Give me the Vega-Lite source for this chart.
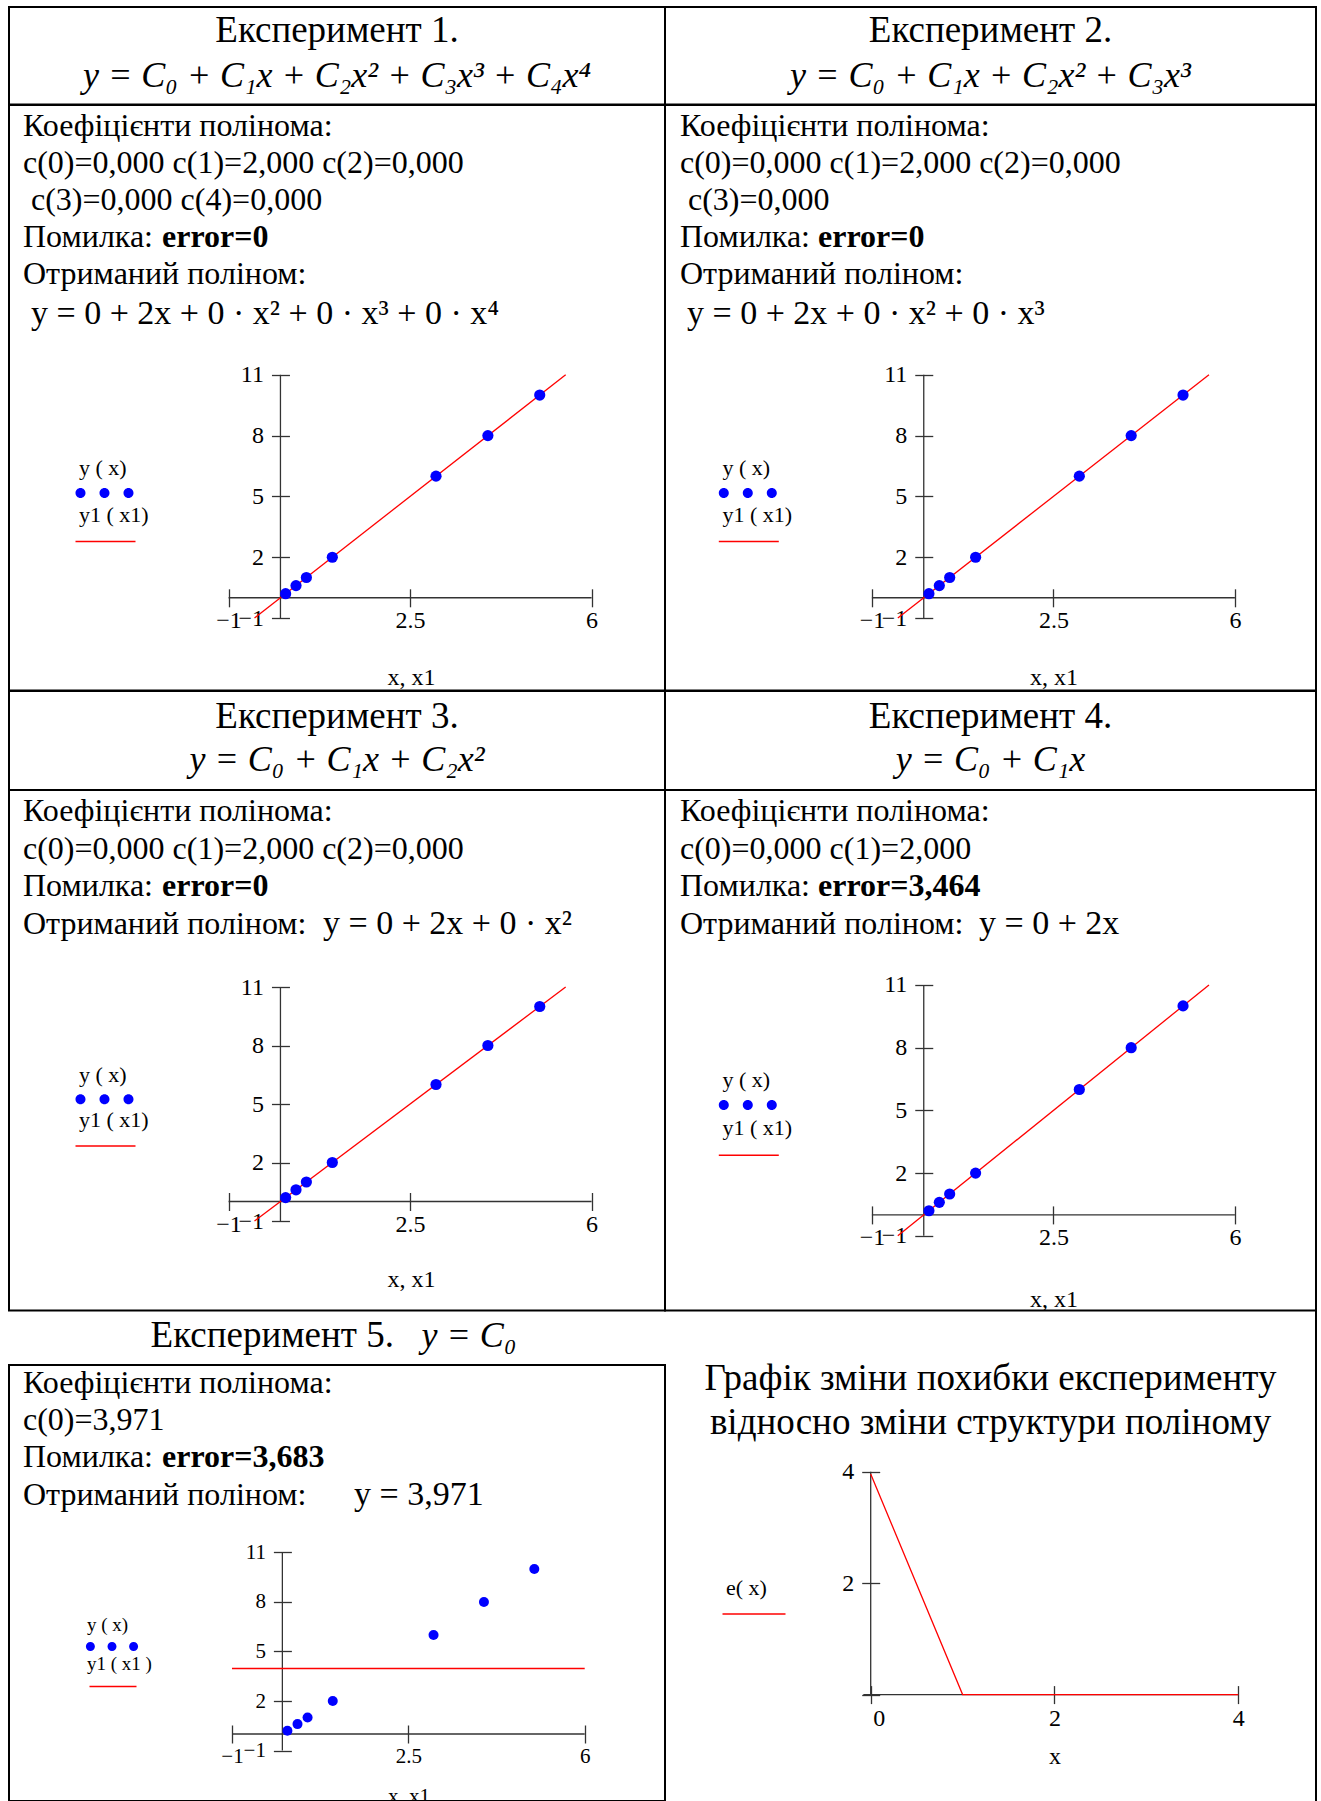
{
"$schema": "https://vega.github.io/schema/vega-lite/v6.json",
"padding": {"left": 8, "top": 6, "right": 0, "bottom": 0},
"background": "white",
"config": {
  "view": {"stroke": "black", "strokeWidth": 2},
  "font": "Liberation Serif",
  "axis": {"labelFont": "Liberation Serif", "titleFont": "Liberation Serif", "labelColor": "black", "titleColor": "black", "titleFontWeight": "normal", "grid": false, "domain": false, "tickColor": "#333", "tickWidth": 1.3, "tickSize": 18, "labelFlush": false, "labelOverlap": false},
  "legend": {"orient": "none", "padding": 0, "labelFontSize": 1, "titleFont": "Liberation Serif", "titleFontWeight": "normal", "titleColor": "black", "titleFontSize": 22}
},
"columns": 2,
"spacing": 0,
"bounds": "flush",
"resolve": {"scale": {"fill": "independent", "stroke": "independent"}},
"concat": [
     {"width": 656, "height": 97.5,
      "layer": [
        {"data": {"values": [{"line": 1, "txt": "Експеримент 1."}]}, "mark": {"type": "text", "fontSize": 37, "color": "black", "baseline": "middle"}, "encoding": {"y": {"field": "line", "type": "quantitative", "scale": {"domain": [0.4643, 2.6406], "reverse": true, "nice": false, "zero": false}, "axis": null}, "text": {"field": "txt"}}},
        {"data": {"values": [{"line": 2, "txt": "y = C₀ + C₁x + C₂x² + C₃x³ + C₄x⁴"}]}, "mark": {"type": "text", "fontSize": 36, "fontStyle": "italic", "color": "black", "baseline": "middle"}, "encoding": {"y": {"field": "line", "type": "quantitative", "scale": {"domain": [0.4643, 2.6406], "reverse": true, "nice": false, "zero": false}, "axis": null}, "text": {"field": "txt"}}}
      ]},
     {"width": 651, "height": 97.5,
      "layer": [
        {"data": {"values": [{"line": 1, "txt": "Експеримент 2."}]}, "mark": {"type": "text", "fontSize": 37, "color": "black", "baseline": "middle"}, "encoding": {"y": {"field": "line", "type": "quantitative", "scale": {"domain": [0.4643, 2.6406], "reverse": true, "nice": false, "zero": false}, "axis": null}, "text": {"field": "txt"}}},
        {"data": {"values": [{"line": 2, "txt": "y = C₀ + C₁x + C₂x² + C₃x³"}]}, "mark": {"type": "text", "fontSize": 36, "fontStyle": "italic", "color": "black", "baseline": "middle"}, "encoding": {"y": {"field": "line", "type": "quantitative", "scale": {"domain": [0.4643, 2.6406], "reverse": true, "nice": false, "zero": false}, "axis": null}, "text": {"field": "txt"}}}
      ]},
     {"width": 656, "height": 585.5,
      "resolve": {"scale": {"x": "independent", "y": "independent"}},
      "layer": [
        {"layer": [
          {"data": {"values": [{"line": 1, "txt": "Коефіцієнти полінома:"}, {"line": 2, "txt": "c(0)=0,000 c(1)=2,000 c(2)=0,000"}, {"line": 4, "txt": "Помилка:"}, {"line": 5, "txt": "Отриманий поліном:"}]},
           "mark": {"type": "text", "align": "left", "baseline": "middle", "fontSize": 32, "color": "black", "dx": 14},
           "encoding": {"x": {"datum": 0, "type": "quantitative", "scale": {"domain": [0, 1]}, "axis": null}, "y": {"field": "line", "type": "quantitative", "scale": {"domain": [0.44054, 16.2649], "reverse": true, "nice": false, "zero": false}, "axis": null}, "text": {"field": "txt"}}},
          {"data": {"values": [{"line": 3, "txt": "c(3)=0,000 c(4)=0,000"}]},
           "mark": {"type": "text", "align": "left", "baseline": "middle", "fontSize": 32, "color": "black", "dx": 22},
           "encoding": {"x": {"datum": 0, "type": "quantitative", "scale": {"domain": [0, 1]}, "axis": null}, "y": {"field": "line", "type": "quantitative", "scale": {"domain": [0.44054, 16.2649], "reverse": true, "nice": false, "zero": false}, "axis": null}, "text": {"field": "txt"}}},
          {"data": {"values": [{"line": 4, "txt": "error=0"}]},
           "mark": {"type": "text", "align": "left", "baseline": "middle", "fontSize": 32, "fontWeight": "bold", "color": "black", "dx": 153},
           "encoding": {"x": {"datum": 0, "type": "quantitative", "scale": {"domain": [0, 1]}, "axis": null}, "y": {"field": "line", "type": "quantitative", "scale": {"domain": [0.44054, 16.2649], "reverse": true, "nice": false, "zero": false}, "axis": null}, "text": {"field": "txt"}}},
          {"data": {"values": [{"line": 6, "txt": "y = 0 + 2x + 0 · x² + 0 · x³ + 0 · x⁴"}]},
           "mark": {"type": "text", "align": "left", "baseline": "middle", "fontSize": 34, "color": "black", "dx": 22, "dy": 3},
           "encoding": {"x": {"datum": 0, "type": "quantitative", "scale": {"domain": [0, 1]}, "axis": null}, "y": {"field": "line", "type": "quantitative", "scale": {"domain": [0.44054, 16.2649], "reverse": true, "nice": false, "zero": false}, "axis": null}, "text": {"field": "txt"}}}
        ]},
        {"layer": [
          {"data": {"values": [{}]}, "mark": {"type": "rule", "color": "#333", "strokeWidth": 1.3},
           "encoding": {"x": {"datum": -1, "type": "quantitative", "scale": {"domain": [-5.2345, 7.4154], "nice": false, "zero": false}}, "x2": {"datum": 6}, "y": {"datum": 0, "type": "quantitative", "scale": {"domain": [-4.575, 24.31], "nice": false, "zero": false}}}},
          {"data": {"values": [{}]}, "mark": {"type": "rule", "color": "#333", "strokeWidth": 1.3},
           "encoding": {"x": {"datum": 0, "type": "quantitative", "scale": {"domain": [-5.2345, 7.4154], "nice": false, "zero": false}}, "y": {"datum": -1, "type": "quantitative", "scale": {"domain": [-4.575, 24.31], "nice": false, "zero": false}}, "y2": {"datum": 11}}},
          {"data": {"values": [{"x1": -0.5, "y1": -1}, {"x1": 5.5, "y1": 11}]}, "mark": {"type": "line", "strokeWidth": 1.3},
           "encoding": {"x": {"field": "x1", "type": "quantitative", "scale": {"domain": [-5.2345, 7.4154], "nice": false, "zero": false}}, "y": {"field": "y1", "type": "quantitative", "scale": {"domain": [-4.575, 24.31], "nice": false, "zero": false}},
             "stroke": {"datum": "y1 ( x1)", "scale": {"range": ["#ff0000"]}, "legend": {"orient": "none", "title": "y1 ( x1)", "legendX": 70, "legendY": 400, "symbolType": "stroke", "symbolSize": 3600, "symbolOffset": -4.5, "titlePadding": -16.5, "labelExpr": "''", "symbolStrokeWidth": 1.5}}}},
          {"data": {"values": [{"x": 0.1, "y": 0.2}, {"x": 0.3, "y": 0.6}, {"x": 0.5, "y": 1}, {"x": 1, "y": 2}, {"x": 3, "y": 6}, {"x": 4, "y": 8}, {"x": 5, "y": 10}]},
           "mark": {"type": "point", "filled": true, "size": 125, "opacity": 1},
           "encoding": {"x": {"field": "x", "type": "quantitative", "scale": {"domain": [-5.2345, 7.4154], "nice": false, "zero": false}, "axis": {"values": [-1, 2.5, 6], "labelExpr": "datum.value == 2.5 ? '2.5' : datum.label", "offset": -101.7, "labelFontSize": 24, "labelPadding": 2, "title": "x, x1", "titleFontSize": 24, "titleX": 402, "titleY": 88.9, "titleBaseline": "middle"}},
             "y": {"field": "y", "type": "quantitative", "scale": {"domain": [-4.575, 24.31], "nice": false, "zero": false}, "axis": {"values": [-1, 2, 5, 8, 11], "offset": -280.46, "labelFontSize": 24, "labelPadding": 8, "title": null}},
             "fill": {"datum": "y ( x)", "scale": {"range": ["#0000ff"]}, "legend": {"orient": "none", "title": "y ( x)", "legendX": 70, "legendY": 353, "symbolType": "M-5.8,0A1,1,0,1,0,-3.8,0A1,1,0,1,0,-5.8,0ZM-1,0A1,1,0,1,0,1,0A1,1,0,1,0,-1,0ZM3.8,0A1,1,0,1,0,5.8,0A1,1,0,1,0,3.8,0Z", "symbolSize": 100, "symbolOffset": 20.5, "titlePadding": 8, "labelExpr": "''", "symbolStrokeWidth": 0}}}}
        ]}
      ]},
     {"width": 651, "height": 585.5,
      "resolve": {"scale": {"x": "independent", "y": "independent"}},
      "layer": [
        {"layer": [
          {"data": {"values": [{"line": 1, "txt": "Коефіцієнти полінома:"}, {"line": 2, "txt": "c(0)=0,000 c(1)=2,000 c(2)=0,000"}, {"line": 4, "txt": "Помилка:"}, {"line": 5, "txt": "Отриманий поліном:"}]},
           "mark": {"type": "text", "align": "left", "baseline": "middle", "fontSize": 32, "color": "black", "dx": 15},
           "encoding": {"x": {"datum": 0, "type": "quantitative", "scale": {"domain": [0, 1]}, "axis": null}, "y": {"field": "line", "type": "quantitative", "scale": {"domain": [0.44054, 16.2649], "reverse": true, "nice": false, "zero": false}, "axis": null}, "text": {"field": "txt"}}},
          {"data": {"values": [{"line": 3, "txt": "c(3)=0,000"}]},
           "mark": {"type": "text", "align": "left", "baseline": "middle", "fontSize": 32, "color": "black", "dx": 23},
           "encoding": {"x": {"datum": 0, "type": "quantitative", "scale": {"domain": [0, 1]}, "axis": null}, "y": {"field": "line", "type": "quantitative", "scale": {"domain": [0.44054, 16.2649], "reverse": true, "nice": false, "zero": false}, "axis": null}, "text": {"field": "txt"}}},
          {"data": {"values": [{"line": 4, "txt": "error=0"}]},
           "mark": {"type": "text", "align": "left", "baseline": "middle", "fontSize": 32, "fontWeight": "bold", "color": "black", "dx": 153},
           "encoding": {"x": {"datum": 0, "type": "quantitative", "scale": {"domain": [0, 1]}, "axis": null}, "y": {"field": "line", "type": "quantitative", "scale": {"domain": [0.44054, 16.2649], "reverse": true, "nice": false, "zero": false}, "axis": null}, "text": {"field": "txt"}}},
          {"data": {"values": [{"line": 6, "txt": "y = 0 + 2x + 0 · x² + 0 · x³"}]},
           "mark": {"type": "text", "align": "left", "baseline": "middle", "fontSize": 34, "color": "black", "dx": 22, "dy": 3},
           "encoding": {"x": {"datum": 0, "type": "quantitative", "scale": {"domain": [0, 1]}, "axis": null}, "y": {"field": "line", "type": "quantitative", "scale": {"domain": [0.44054, 16.2649], "reverse": true, "nice": false, "zero": false}, "axis": null}, "text": {"field": "txt"}}}
        ]},
        {"layer": [
          {"data": {"values": [{}]}, "mark": {"type": "rule", "color": "#333", "strokeWidth": 1.3},
           "encoding": {"x": {"datum": -1, "type": "quantitative", "scale": {"domain": [-4.9896, 7.5638], "nice": false, "zero": false}}, "x2": {"datum": 6}, "y": {"datum": 0, "type": "quantitative", "scale": {"domain": [-4.575, 24.31], "nice": false, "zero": false}}}},
          {"data": {"values": [{}]}, "mark": {"type": "rule", "color": "#333", "strokeWidth": 1.3},
           "encoding": {"x": {"datum": 0, "type": "quantitative", "scale": {"domain": [-4.9896, 7.5638], "nice": false, "zero": false}}, "y": {"datum": -1, "type": "quantitative", "scale": {"domain": [-4.575, 24.31], "nice": false, "zero": false}}, "y2": {"datum": 11}}},
          {"data": {"values": [{"x1": -0.5, "y1": -1}, {"x1": 5.5, "y1": 11}]}, "mark": {"type": "line", "strokeWidth": 1.3},
           "encoding": {"x": {"field": "x1", "type": "quantitative", "scale": {"domain": [-4.9896, 7.5638], "nice": false, "zero": false}}, "y": {"field": "y1", "type": "quantitative", "scale": {"domain": [-4.575, 24.31], "nice": false, "zero": false}},
             "stroke": {"datum": "y1 ( x1)", "scale": {"range": ["#ff0000"]}, "legend": {"orient": "none", "title": "y1 ( x1)", "legendX": 57.5, "legendY": 400, "symbolType": "stroke", "symbolSize": 3600, "symbolOffset": -4.7, "titlePadding": -16.5, "labelExpr": "''", "symbolStrokeWidth": 1.5}}}},
          {"data": {"values": [{"x": 0.1, "y": 0.2}, {"x": 0.3, "y": 0.6}, {"x": 0.5, "y": 1}, {"x": 1, "y": 2}, {"x": 3, "y": 6}, {"x": 4, "y": 8}, {"x": 5, "y": 10}]},
           "mark": {"type": "point", "filled": true, "size": 125, "opacity": 1},
           "encoding": {"x": {"field": "x", "type": "quantitative", "scale": {"domain": [-4.9896, 7.5638], "nice": false, "zero": false}, "axis": {"values": [-1, 2.5, 6], "labelExpr": "datum.value == 2.5 ? '2.5' : datum.label", "offset": -101.7, "labelFontSize": 24, "labelPadding": 2, "title": "x, x1", "titleFontSize": 24, "titleX": 388.4, "titleY": 88.9, "titleBaseline": "middle"}},
             "y": {"field": "y", "type": "quantitative", "scale": {"domain": [-4.575, 24.31], "nice": false, "zero": false}, "axis": {"values": [-1, 2, 5, 8, 11], "offset": -267.76, "labelFontSize": 24, "labelPadding": 8, "title": null}},
             "fill": {"datum": "y ( x)", "scale": {"range": ["#0000ff"]}, "legend": {"orient": "none", "title": "y ( x)", "legendX": 57.5, "legendY": 353, "symbolType": "M-5.8,0A1,1,0,1,0,-3.8,0A1,1,0,1,0,-5.8,0ZM-1,0A1,1,0,1,0,1,0A1,1,0,1,0,-1,0ZM3.8,0A1,1,0,1,0,5.8,0A1,1,0,1,0,3.8,0Z", "symbolSize": 100, "symbolOffset": 20.3, "titlePadding": 8, "labelExpr": "''", "symbolStrokeWidth": 0}}}}
        ]}
      ]},
     {"width": 656, "height": 99,
      "layer": [
        {"data": {"values": [{"line": 1, "txt": "Експеримент 3."}]}, "mark": {"type": "text", "fontSize": 37, "color": "black", "baseline": "middle"}, "encoding": {"y": {"field": "line", "type": "quantitative", "scale": {"domain": [0.4142, 2.6796], "reverse": true, "nice": false, "zero": false}, "axis": null}, "text": {"field": "txt"}}},
        {"data": {"values": [{"line": 2, "txt": "y = C₀ + C₁x + C₂x²"}]}, "mark": {"type": "text", "fontSize": 36, "fontStyle": "italic", "color": "black", "baseline": "middle"}, "encoding": {"y": {"field": "line", "type": "quantitative", "scale": {"domain": [0.4142, 2.6796], "reverse": true, "nice": false, "zero": false}, "axis": null}, "text": {"field": "txt"}}}
      ]},
     {"width": 651, "height": 99,
      "layer": [
        {"data": {"values": [{"line": 1, "txt": "Експеримент 4."}]}, "mark": {"type": "text", "fontSize": 37, "color": "black", "baseline": "middle"}, "encoding": {"y": {"field": "line", "type": "quantitative", "scale": {"domain": [0.4142, 2.6796], "reverse": true, "nice": false, "zero": false}, "axis": null}, "text": {"field": "txt"}}},
        {"data": {"values": [{"line": 2, "txt": "y = C₀ + C₁x"}]}, "mark": {"type": "text", "fontSize": 36, "fontStyle": "italic", "color": "black", "baseline": "middle"}, "encoding": {"y": {"field": "line", "type": "quantitative", "scale": {"domain": [0.4142, 2.6796], "reverse": true, "nice": false, "zero": false}, "axis": null}, "text": {"field": "txt"}}}
      ]},
     {"width": 656, "height": 520.5,
      "resolve": {"scale": {"x": "independent", "y": "independent"}},
      "layer": [
        {"layer": [
          {"data": {"values": [{"line": 1, "txt": "Коефіцієнти полінома:"}, {"line": 2, "txt": "c(0)=0,000 c(1)=2,000 c(2)=0,000"}, {"line": 3, "txt": "Помилка:"}, {"line": 4, "txt": "Отриманий поліном:"}]},
           "mark": {"type": "text", "align": "left", "baseline": "middle", "fontSize": 32, "color": "black", "dx": 14},
           "encoding": {"x": {"datum": 0, "type": "quantitative", "scale": {"domain": [0, 1]}, "axis": null}, "y": {"field": "line", "type": "quantitative", "scale": {"domain": [0.42667, 14.3067], "reverse": true, "nice": false, "zero": false}, "axis": null}, "text": {"field": "txt"}}},
          {"data": {"values": [{"line": 3, "txt": "error=0"}]},
           "mark": {"type": "text", "align": "left", "baseline": "middle", "fontSize": 32, "fontWeight": "bold", "color": "black", "dx": 153},
           "encoding": {"x": {"datum": 0, "type": "quantitative", "scale": {"domain": [0, 1]}, "axis": null}, "y": {"field": "line", "type": "quantitative", "scale": {"domain": [0.42667, 14.3067], "reverse": true, "nice": false, "zero": false}, "axis": null}, "text": {"field": "txt"}}},
          {"data": {"values": [{"line": 4, "txt": "y = 0 + 2x + 0 · x²"}]},
           "mark": {"type": "text", "align": "left", "baseline": "middle", "fontSize": 34, "color": "black", "dx": 314},
           "encoding": {"x": {"datum": 0, "type": "quantitative", "scale": {"domain": [0, 1]}, "axis": null}, "y": {"field": "line", "type": "quantitative", "scale": {"domain": [0.42667, 14.3067], "reverse": true, "nice": false, "zero": false}, "axis": null}, "text": {"field": "txt"}}}
        ]},
        {"layer": [
          {"data": {"values": [{}]}, "mark": {"type": "rule", "color": "#333", "strokeWidth": 1.3},
           "encoding": {"x": {"datum": -1, "type": "quantitative", "scale": {"domain": [-5.2345, 7.4154], "nice": false, "zero": false}}, "x2": {"datum": 6}, "y": {"datum": 0, "type": "quantitative", "scale": {"domain": [-5.5897, 21.1026], "nice": false, "zero": false}}}},
          {"data": {"values": [{}]}, "mark": {"type": "rule", "color": "#333", "strokeWidth": 1.3},
           "encoding": {"x": {"datum": 0, "type": "quantitative", "scale": {"domain": [-5.2345, 7.4154], "nice": false, "zero": false}}, "y": {"datum": -1, "type": "quantitative", "scale": {"domain": [-5.5897, 21.1026], "nice": false, "zero": false}}, "y2": {"datum": 11}}},
          {"data": {"values": [{"x1": -0.5, "y1": -1}, {"x1": 5.5, "y1": 11}]}, "mark": {"type": "line", "strokeWidth": 1.3},
           "encoding": {"x": {"field": "x1", "type": "quantitative", "scale": {"domain": [-5.2345, 7.4154], "nice": false, "zero": false}}, "y": {"field": "y1", "type": "quantitative", "scale": {"domain": [-5.5897, 21.1026], "nice": false, "zero": false}},
             "stroke": {"datum": "y1 ( x1)", "scale": {"range": ["#ff0000"]}, "legend": {"orient": "none", "title": "y1 ( x1)", "legendX": 70, "legendY": 320, "symbolType": "stroke", "symbolSize": 3600, "symbolOffset": -4.5, "titlePadding": -17, "labelExpr": "''", "symbolStrokeWidth": 1.5}}}},
          {"data": {"values": [{"x": 0.1, "y": 0.2}, {"x": 0.3, "y": 0.6}, {"x": 0.5, "y": 1}, {"x": 1, "y": 2}, {"x": 3, "y": 6}, {"x": 4, "y": 8}, {"x": 5, "y": 10}]},
           "mark": {"type": "point", "filled": true, "size": 125, "opacity": 1},
           "encoding": {"x": {"field": "x", "type": "quantitative", "scale": {"domain": [-5.2345, 7.4154], "nice": false, "zero": false}, "axis": {"values": [-1, 2.5, 6], "labelExpr": "datum.value == 2.5 ? '2.5' : datum.label", "offset": -118, "labelFontSize": 24, "labelPadding": 2, "title": "x, x1", "titleFontSize": 24, "titleX": 402, "titleY": 87, "titleBaseline": "middle"}},
             "y": {"field": "y", "type": "quantitative", "scale": {"domain": [-5.5897, 21.1026], "nice": false, "zero": false}, "axis": {"values": [-1, 2, 5, 8, 11], "offset": -280.46, "labelFontSize": 24, "labelPadding": 8, "title": null}},
             "fill": {"datum": "y ( x)", "scale": {"range": ["#0000ff"]}, "legend": {"orient": "none", "title": "y ( x)", "legendX": 70, "legendY": 275.2, "symbolType": "M-5.8,0A1,1,0,1,0,-3.8,0A1,1,0,1,0,-5.8,0ZM-1,0A1,1,0,1,0,1,0A1,1,0,1,0,-1,0ZM3.8,0A1,1,0,1,0,5.8,0A1,1,0,1,0,3.8,0Z", "symbolSize": 100, "symbolOffset": 20.5, "titlePadding": 7, "labelExpr": "''", "symbolStrokeWidth": 0}}}}
        ]}
      ]},
     {"width": 651, "height": 520.5,
      "resolve": {"scale": {"x": "independent", "y": "independent"}},
      "layer": [
        {"layer": [
          {"data": {"values": [{"line": 1, "txt": "Коефіцієнти полінома:"}, {"line": 2, "txt": "c(0)=0,000 c(1)=2,000"}, {"line": 3, "txt": "Помилка:"}, {"line": 4, "txt": "Отриманий поліном:"}]},
           "mark": {"type": "text", "align": "left", "baseline": "middle", "fontSize": 32, "color": "black", "dx": 15},
           "encoding": {"x": {"datum": 0, "type": "quantitative", "scale": {"domain": [0, 1]}, "axis": null}, "y": {"field": "line", "type": "quantitative", "scale": {"domain": [0.42667, 14.3067], "reverse": true, "nice": false, "zero": false}, "axis": null}, "text": {"field": "txt"}}},
          {"data": {"values": [{"line": 3, "txt": "error=3,464"}]},
           "mark": {"type": "text", "align": "left", "baseline": "middle", "fontSize": 32, "fontWeight": "bold", "color": "black", "dx": 153},
           "encoding": {"x": {"datum": 0, "type": "quantitative", "scale": {"domain": [0, 1]}, "axis": null}, "y": {"field": "line", "type": "quantitative", "scale": {"domain": [0.42667, 14.3067], "reverse": true, "nice": false, "zero": false}, "axis": null}, "text": {"field": "txt"}}},
          {"data": {"values": [{"line": 4, "txt": "y = 0 + 2x"}]},
           "mark": {"type": "text", "align": "left", "baseline": "middle", "fontSize": 34, "color": "black", "dx": 314},
           "encoding": {"x": {"datum": 0, "type": "quantitative", "scale": {"domain": [0, 1]}, "axis": null}, "y": {"field": "line", "type": "quantitative", "scale": {"domain": [0.42667, 14.3067], "reverse": true, "nice": false, "zero": false}, "axis": null}, "text": {"field": "txt"}}}
        ]},
        {"layer": [
          {"data": {"values": [{}]}, "mark": {"type": "rule", "color": "#333", "strokeWidth": 1.3},
           "encoding": {"x": {"datum": -1, "type": "quantitative", "scale": {"domain": [-4.9896, 7.5638], "nice": false, "zero": false}}, "x2": {"datum": 6}, "y": {"datum": 0, "type": "quantitative", "scale": {"domain": [-4.574, 20.33], "nice": false, "zero": false}}}},
          {"data": {"values": [{}]}, "mark": {"type": "rule", "color": "#333", "strokeWidth": 1.3},
           "encoding": {"x": {"datum": 0, "type": "quantitative", "scale": {"domain": [-4.9896, 7.5638], "nice": false, "zero": false}}, "y": {"datum": -1, "type": "quantitative", "scale": {"domain": [-4.574, 20.33], "nice": false, "zero": false}}, "y2": {"datum": 11}}},
          {"data": {"values": [{"x1": -0.5, "y1": -1}, {"x1": 5.5, "y1": 11}]}, "mark": {"type": "line", "strokeWidth": 1.3},
           "encoding": {"x": {"field": "x1", "type": "quantitative", "scale": {"domain": [-4.9896, 7.5638], "nice": false, "zero": false}}, "y": {"field": "y1", "type": "quantitative", "scale": {"domain": [-4.574, 20.33], "nice": false, "zero": false}},
             "stroke": {"datum": "y1 ( x1)", "scale": {"range": ["#ff0000"]}, "legend": {"orient": "none", "title": "y1 ( x1)", "legendX": 57.5, "legendY": 328, "symbolType": "stroke", "symbolSize": 3600, "symbolOffset": -4.7, "titlePadding": -15.7, "labelExpr": "''", "symbolStrokeWidth": 1.5}}}},
          {"data": {"values": [{"x": 0.1, "y": 0.2}, {"x": 0.3, "y": 0.6}, {"x": 0.5, "y": 1}, {"x": 1, "y": 2}, {"x": 3, "y": 6}, {"x": 4, "y": 8}, {"x": 5, "y": 10}]},
           "mark": {"type": "point", "filled": true, "size": 125, "opacity": 1},
           "encoding": {"x": {"field": "x", "type": "quantitative", "scale": {"domain": [-4.9896, 7.5638], "nice": false, "zero": false}, "axis": {"values": [-1, 2.5, 6], "labelExpr": "datum.value == 2.5 ? '2.5' : datum.label", "offset": -104.6, "labelFontSize": 24, "labelPadding": 2, "title": "x, x1", "titleFontSize": 24, "titleX": 388.4, "titleY": 93.1, "titleBaseline": "middle"}},
             "y": {"field": "y", "type": "quantitative", "scale": {"domain": [-4.574, 20.33], "nice": false, "zero": false}, "axis": {"values": [-1, 2, 5, 8, 11], "offset": -267.76, "labelFontSize": 24, "labelPadding": 8, "title": null}},
             "fill": {"datum": "y ( x)", "scale": {"range": ["#0000ff"]}, "legend": {"orient": "none", "title": "y ( x)", "legendX": 57.5, "legendY": 279.8, "symbolType": "M-5.8,0A1,1,0,1,0,-3.8,0A1,1,0,1,0,-5.8,0ZM-1,0A1,1,0,1,0,1,0A1,1,0,1,0,-1,0ZM3.8,0A1,1,0,1,0,5.8,0A1,1,0,1,0,3.8,0Z", "symbolSize": 100, "symbolOffset": 20.3, "titlePadding": 8.1, "labelExpr": "''", "symbolStrokeWidth": 0}}}}
        ]}
      ]},
     {"width": 656, "height": 54,
      "layer": [
        {"data": {"values": [{"txt": "Експеримент 5."}]}, "mark": {"type": "text", "fontSize": 37, "color": "black", "baseline": "middle", "align": "right", "dx": 57, "dy": -2}, "encoding": {"text": {"field": "txt"}}},
        {"data": {"values": [{"txt": "y = C₀"}]}, "mark": {"type": "text", "fontSize": 36, "fontStyle": "italic", "color": "black", "baseline": "middle", "align": "left", "dx": 84.6, "dy": -2}, "encoding": {"text": {"field": "txt"}}}
      ]},
     {"width": 651, "height": 54, "view": {"stroke": null},
      "data": {"values": [{}]},
      "mark": {"type": "rule", "color": "black", "strokeWidth": 2},
      "encoding": {"x": {"datum": 1, "type": "quantitative", "scale": {"domain": [0, 1]}, "axis": null}}},
     {"width": 656, "height": 436,
      "resolve": {"scale": {"x": "independent", "y": "independent"}},
      "layer": [
        {"layer": [
          {"data": {"values": [{"line": 1, "txt": "Коефіцієнти полінома:"}, {"line": 2, "txt": "c(0)=3,971"}, {"line": 3, "txt": "Помилка:"}, {"line": 4, "txt": "Отриманий поліном:"}]},
           "mark": {"type": "text", "align": "left", "baseline": "middle", "fontSize": 32, "color": "black", "dx": 14},
           "encoding": {"x": {"datum": 0, "type": "quantitative", "scale": {"domain": [0, 1]}, "axis": null}, "y": {"field": "line", "type": "quantitative", "scale": {"domain": [0.51613, 12.2366], "reverse": true, "nice": false, "zero": false}, "axis": null}, "text": {"field": "txt"}}},
          {"data": {"values": [{"line": 3, "txt": "error=3,683"}]},
           "mark": {"type": "text", "align": "left", "baseline": "middle", "fontSize": 32, "fontWeight": "bold", "color": "black", "dx": 153},
           "encoding": {"x": {"datum": 0, "type": "quantitative", "scale": {"domain": [0, 1]}, "axis": null}, "y": {"field": "line", "type": "quantitative", "scale": {"domain": [0.51613, 12.2366], "reverse": true, "nice": false, "zero": false}, "axis": null}, "text": {"field": "txt"}}},
          {"data": {"values": [{"line": 4, "txt": "y = 3,971"}]},
           "mark": {"type": "text", "align": "left", "baseline": "middle", "fontSize": 34, "color": "black", "dx": 345},
           "encoding": {"x": {"datum": 0, "type": "quantitative", "scale": {"domain": [0, 1]}, "axis": null}, "y": {"field": "line", "type": "quantitative", "scale": {"domain": [0.51613, 12.2366], "reverse": true, "nice": false, "zero": false}, "axis": null}, "text": {"field": "txt"}}}
        ]},
        {"layer": [
          {"data": {"values": [{}]}, "mark": {"type": "rule", "color": "#333", "strokeWidth": 1.3},
           "encoding": {"x": {"datum": -1, "type": "quantitative", "scale": {"domain": [-5.4255, 7.5936], "nice": false, "zero": false}}, "x2": {"datum": 6}, "y": {"datum": 0, "type": "quantitative", "scale": {"domain": [-4.0606, 22.3636], "nice": false, "zero": false}}}},
          {"data": {"values": [{}]}, "mark": {"type": "rule", "color": "#333", "strokeWidth": 1.3},
           "encoding": {"x": {"datum": 0, "type": "quantitative", "scale": {"domain": [-5.4255, 7.5936], "nice": false, "zero": false}}, "y": {"datum": -1, "type": "quantitative", "scale": {"domain": [-4.0606, 22.3636], "nice": false, "zero": false}}, "y2": {"datum": 11}}},
          {"data": {"values": [{"x1": -1, "y1": 3.971}, {"x1": 6, "y1": 3.971}]}, "mark": {"type": "line", "strokeWidth": 1.3},
           "encoding": {"x": {"field": "x1", "type": "quantitative", "scale": {"domain": [-5.4255, 7.5936], "nice": false, "zero": false}}, "y": {"field": "y1", "type": "quantitative", "scale": {"domain": [-4.0606, 22.3636], "nice": false, "zero": false}},
             "stroke": {"datum": "y1  ( x1 )", "scale": {"range": ["#ff0000"]}, "legend": {"orient": "none", "title": "y1  ( x1 )", "titleFontSize": 19, "legendX": 78, "legendY": 290.3, "symbolType": "stroke", "symbolSize": 2209, "symbolOffset": 1.5, "titlePadding": -12.3, "labelExpr": "''", "symbolStrokeWidth": 1.5}}}},
          {"data": {"values": [{"x": 0.1, "y": 0.2}, {"x": 0.3, "y": 0.6}, {"x": 0.5, "y": 1}, {"x": 1, "y": 2}, {"x": 3, "y": 6}, {"x": 4, "y": 8}, {"x": 5, "y": 10}]},
           "mark": {"type": "point", "filled": true, "size": 100, "opacity": 1},
           "encoding": {"x": {"field": "x", "type": "quantitative", "scale": {"domain": [-5.4255, 7.5936], "nice": false, "zero": false}, "axis": {"values": [-1, 2.5, 6], "labelExpr": "datum.value == 2.5 ? '2.5' : datum.label", "offset": -76, "labelFontSize": 21, "labelPadding": 2, "title": "x, x1", "titleFontSize": 21, "titleX": 399.4, "titleY": 71.7, "titleBaseline": "middle"}},
             "y": {"field": "y", "type": "quantitative", "scale": {"domain": [-4.0606, 22.3636], "nice": false, "zero": false}, "axis": {"values": [-1, 2, 5, 8, 11], "offset": -282.39, "labelFontSize": 21, "labelPadding": 8, "title": null}},
             "fill": {"datum": "y ( x)", "scale": {"range": ["#0000ff"]}, "legend": {"orient": "none", "title": "y ( x)", "titleFontSize": 19, "legendX": 78, "legendY": 251.3, "symbolType": "M-5.8,0A1,1,0,1,0,-3.8,0A1,1,0,1,0,-5.8,0ZM-1,0A1,1,0,1,0,1,0A1,1,0,1,0,-1,0ZM3.8,0A1,1,0,1,0,5.8,0A1,1,0,1,0,3.8,0Z", "symbolSize": 81, "symbolOffset": 20.5, "titlePadding": 6.7, "labelExpr": "''", "symbolStrokeWidth": 0}}}}
        ]}
      ]},
     {"width": 651, "height": 436, "view": {"stroke": null},
      "resolve": {"scale": {"x": "independent", "y": "independent"}},
      "layer": [
        {"layer": [
          {"data": {"values": [{"line": 1, "txt": "Графік зміни похибки експерименту"}, {"line": 2, "txt": "відносно зміни структури поліному"}]},
           "mark": {"type": "text", "align": "center", "baseline": "middle", "fontSize": 37, "color": "black"},
           "encoding": {"y": {"field": "line", "type": "quantitative", "scale": {"domain": [0.6842, 10.661], "reverse": true, "nice": false, "zero": false}, "axis": null}, "text": {"field": "txt"}}},
          {"data": {"values": [{}]}, "mark": {"type": "rule", "color": "black", "strokeWidth": 2},
           "encoding": {"x": {"datum": 1, "type": "quantitative", "scale": {"domain": [0, 1]}, "axis": null}}}
        ]},
        {"layer": [
          {"data": {"values": [{}]}, "mark": {"type": "rule", "color": "#333", "strokeWidth": 1.3},
           "encoding": {"x": {"datum": -0.08, "type": "quantitative", "scale": {"domain": [-2.2383, 4.8455], "nice": false, "zero": false}}, "x2": {"datum": 4}, "y": {"datum": 0, "type": "quantitative", "scale": {"domain": [-1.91, 5.917], "nice": false, "zero": false}}}},
          {"data": {"values": [{}]}, "mark": {"type": "rule", "color": "#333", "strokeWidth": 1.3},
           "encoding": {"x": {"datum": 0, "type": "quantitative", "scale": {"domain": [-2.2383, 4.8455], "nice": false, "zero": false}}, "y": {"datum": 0, "type": "quantitative", "scale": {"domain": [-1.91, 5.917], "nice": false, "zero": false}}, "y2": {"datum": 4}}},
          {"data": {"values": [{"x": 0, "e": 3.96}, {"x": 1, "e": 0}, {"x": 2, "e": 0}, {"x": 3, "e": 0}, {"x": 4, "e": 0}]}, "mark": {"type": "line", "strokeWidth": 1.3},
           "encoding": {"x": {"field": "x", "type": "quantitative", "scale": {"domain": [-2.2383, 4.8455], "nice": false, "zero": false}, "axis": {"values": [0, 2, 4], "labelExpr": "'' + datum.value", "offset": -115.4, "labelFontSize": 24, "labelPadding": 3, "labelOffset": {"condition": {"test": "datum.value == 0", "value": 8}, "value": 0}, "title": "x", "titleFontSize": 24, "titleX": 389.5, "titleY": 71.1, "titleBaseline": "middle"}},
             "y": {"field": "e", "type": "quantitative", "scale": {"domain": [-1.91, 5.917], "nice": false, "zero": false}, "axis": {"values": [0, 2, 4], "offset": -214.7, "labelFontSize": 24, "labelPadding": 8, "title": null, "labelExpr": "datum.value == 0 ? '' : datum.label"}},
             "stroke": {"datum": "e( x)", "scale": {"range": ["#ff0000"]}, "legend": {"orient": "none", "title": "e( x)", "legendX": 61, "legendY": 213, "symbolType": "stroke", "symbolSize": 3969, "symbolOffset": -4.5, "titlePadding": -18.4, "labelExpr": "''", "symbolStrokeWidth": 1.5}}}}
        ]}
      ]}
]
}
